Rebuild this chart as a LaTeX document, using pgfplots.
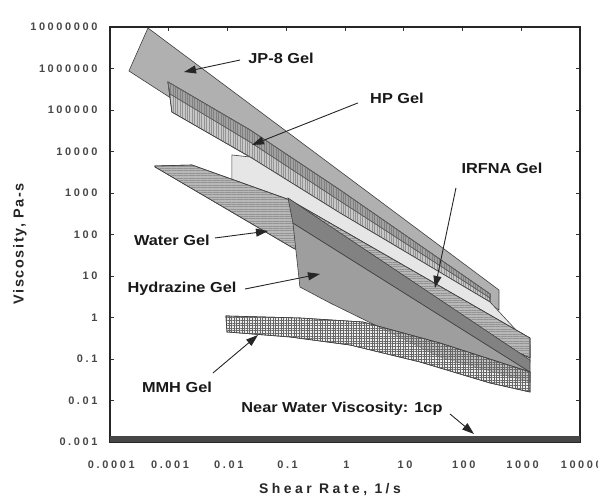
\documentclass[border=0pt]{standalone}
\usepackage{fontspec}
\setmainfont{Liberation Sans}
\newfontfamily\annf{Liberation Sans}[FakeStretch=1.13]
\newfontfamily\tickf{Liberation Sans}[LetterSpace=24]
\newfontfamily\xlabf{Liberation Sans}[LetterSpace=25]
\newfontfamily\ylabf{Liberation Sans}[LetterSpace=11]
\usepackage{pgfplots}
\pgfplotsset{compat=1.18}
\usetikzlibrary{patterns.meta,arrows.meta}
\definecolor{jpfill}{HTML}{B0B0B0}
\definecolor{hpfill}{HTML}{C8C8C8}
\definecolor{hpdark}{HTML}{A2A2A2}
\definecolor{irfill}{HTML}{E6E6E6}
\definecolor{wafill}{HTML}{B8B8B8}
\definecolor{hyup}{HTML}{828282}
\definecolor{hylo}{HTML}{9E9E9E}
\definecolor{mmfill}{HTML}{E2E2E2}
\begin{document}
\begin{tikzpicture}
\useasboundingbox (-110bp,-55bp) rectangle (488bp,442bp);
\begin{axis}[
  at={(0,0)}, anchor=south west,
  scale only axis, width=470bp, height=415bp,
  xmode=log, ymode=log,
  xmin=1e-4, xmax=1e4, ymin=1e-3, ymax=1e7,
  xtick={1e-4,1e-3,1e-2,1e-1,1,10,100,1000,10000},
  xticklabels={0.0001,0.001,0.01,0.1,1,10,100,1000,10000},
  ytick={1e-3,1e-2,1e-1,1,10,100,1000,1e4,1e5,1e6,1e7},
  yticklabels={0.001,0.01,0.1,1,10,100,1000,10000,100000,1000000,10000000},
  minor tick style={draw=none},
  tick align=inside, major tick length=4bp,
  tick style={black!80, line width=0.8bp},
  xticklabel style={font=\tickf\bfseries\fontsize{11}{13}\selectfont, text=black!72, yshift=-15bp, xshift=1.3bp},
  yticklabel style={font=\tickf\bfseries\fontsize{11}{13}\selectfont, text=black!72, xshift=-9bp},
  axis line style={black!85, line width=1.6bp},
  xlabel={Shear Rate, 1/s},
  ylabel={Viscosity, Pa-s},
  xlabel style={font=\xlabf\bfseries\fontsize{14}{16}\selectfont, text=black!85, at={(axis description cs:0.468,-0.1157)}, anchor=center},
  ylabel style={font=\ylabf\bfseries\fontsize{14.5}{16}\selectfont, text=black!85, at={(axis description cs:-0.1915,0.478)}, anchor=center},
]
% JP-8 Gel
\addplot[draw=black!75, line width=0.6bp, fill=jpfill] coordinates {
 (4.43e-4,9.46e6) (418,4.60) (418,1.52) (2.10e-4,8.71e5)} -- cycle;
% HP Gel
\addplot[draw=black!75, line width=0.6bp, fill=hpfill,
  postaction={pattern={Lines[angle=90,distance=2.4bp,line width=0.5bp]}, pattern color=black!42}] coordinates {
 (9.7e-4,4.73e5) (2.42e-2,3.30e4) (0.822,1.18e3) (294,3.68)
 (294,2.36) (0.822,330) (2.42e-2,7.37e3) (1.13e-3,8.95e4)} -- cycle;
\addplot[draw=black!65, line width=0.5bp, fill=hpdark,
  postaction={pattern={Lines[angle=90,distance=2.4bp,line width=0.5bp]}, pattern color=black!50}] coordinates {
 (9.7e-4,4.73e5) (2.42e-2,3.30e4) (0.822,1.18e3) (294,3.68)
 (294,2.95) (0.822,641) (2.42e-2,1.69e4) (1.05e-3,2.43e5)} -- cycle;
% IRFNA Gel
\addplot[draw=black!75, line width=0.6bp, fill=irfill] coordinates {
 (1.19e-2,8.24e3) (2.42e-2,7.37e3) (0.822,330) (294,2.36) (1410,0.217)
 (1410,0.0848) (61.3,0.780) (0.116,514) (1.19e-2,895)} -- cycle;
% Water Gel
\addplot[draw=black!75, line width=0.6bp, fill=wafill,
  postaction={pattern={Lines[angle=0,distance=2.4bp,line width=0.45bp]}, pattern color=black!42}] coordinates {
 (5.83e-4,4.48e3) (2.49e-3,4.73e3) (0.116,678) (1410,0.321)
 (1410,0.106) (0.130,47.3) (5.83e-4,4.24e3)} -- cycle;
% Hydrazine Gel
\addplot[draw=black!75, line width=0.6bp, fill=hylo] coordinates {
 (0.130,189) (1410,0.0487) (1410,0.0279) (41.4,0.112) (0.556,2.24) (0.171,5.43)} -- cycle;
\addplot[draw=black!75, line width=0.6bp, fill=hyup] coordinates {
 (0.107,758) (1410,0.0946) (1410,0.0487) (0.130,189)} -- cycle;
% MMH Gel
\addplot[draw=black!75, line width=0.6bp, fill=mmfill, fill opacity=0.55,
  postaction={pattern={Hatch[angle=0,distance=2.6bp,line width=0.45bp]}, pattern color=black!60}] coordinates {
 (9.4e-3,1.09) (0.171,0.973) (2.02,0.780) (41.4,0.243) (1410,0.0487)
 (1410,0.0160) (294,0.0264) (18.9,0.0848) (1.22,0.217) (0.116,0.339) (9.8e-3,0.448)} -- cycle;
% bottom bar
\fill[black!72] (axis description cs:0,0) rectangle (axis description cs:1,0.014);
% annotations
\tikzset{lab/.style={font=\annf\bfseries\fontsize{14.5}{16}\selectfont, text=black!90},
         arr/.style={-{Triangle[length=12bp,width=8bp]}, line width=0.9bp, black!85}}
\node[lab] at (axis cs:0.0815,1.79e6) {JP-8 Gel};
\draw[arr] (axis cs:0.01633,1.60e6) -- (axis cs:1.82e-3,8.24e5);
\node[lab] at (axis cs:7.67,1.95e5) {HP Gel};
\draw[arr] (axis cs:1.66,1.48e5) -- (axis cs:0.0261,1.44e4);
\node[lab] at (axis cs:470,4.00e3) {IRFNA Gel};
\draw[arr] (axis cs:77.4,1.32e3) -- (axis cs:34.0,5.14);
\node[lab] at (axis cs:1.13e-3,73.6) {Water Gel};
\draw[arr] (axis cs:6.12e-3,82.4) -- (axis cs:0.0489,121);
\node[lab] at (axis cs:1.68e-3,4.86) {Hydrazine Gel};
\draw[arr] (axis cs:0.01986,4.86) -- (axis cs:0.375,11.2);
\node[lab] at (axis cs:1.38e-3,0.0211) {MMH Gel};
\draw[arr] (axis cs:5.66e-3,0.0461) -- (axis cs:0.0330,0.378);
\node[lab] at (axis cs:0.889,6.24e-3) {Near Water Viscosity: 1cp};
\draw[arr] (axis cs:61.3,4.73e-3) -- (axis cs:157,1.56e-3);
\end{axis}
\end{tikzpicture}
\end{document}
